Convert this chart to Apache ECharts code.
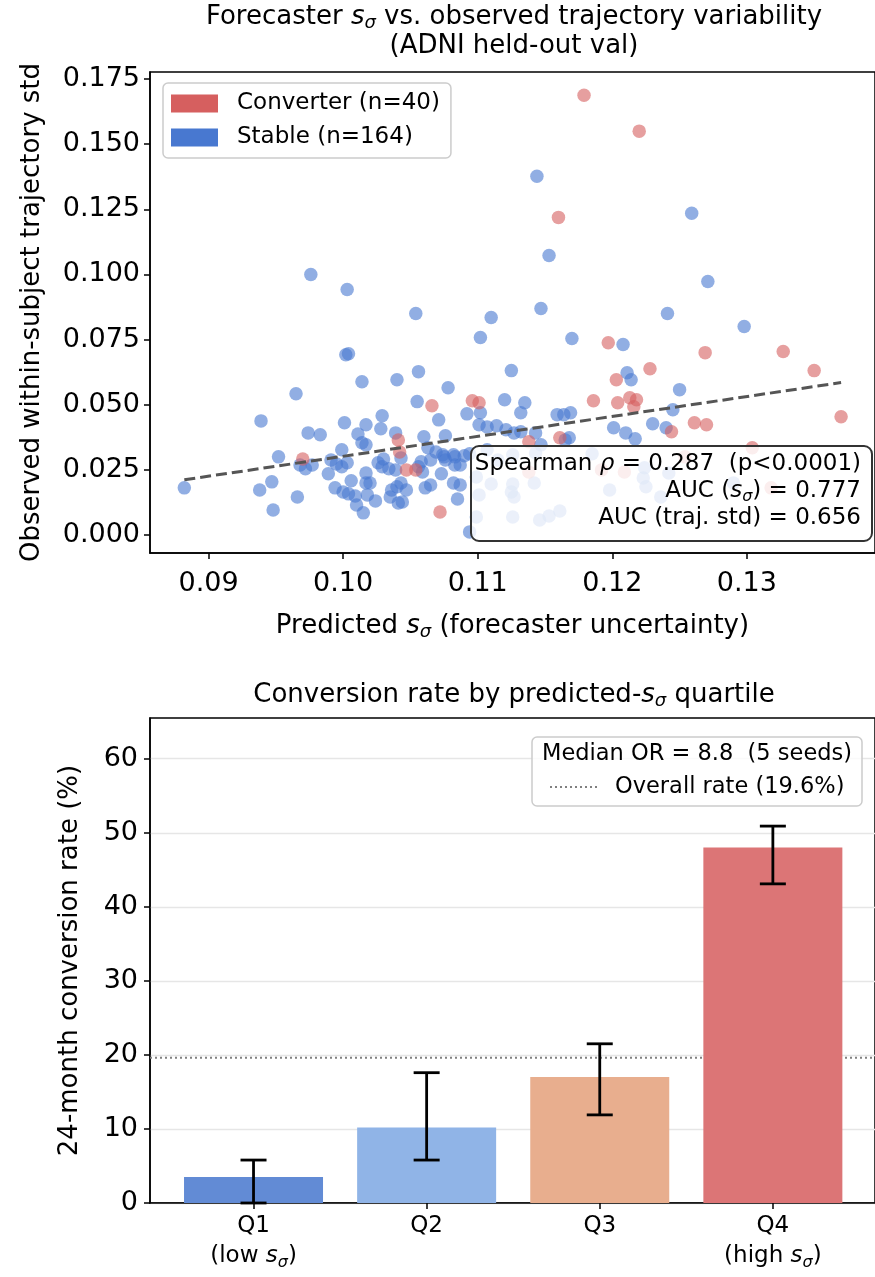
<!DOCTYPE html>
<html><head><meta charset="utf-8">
<script src="https://cdn.jsdelivr.net/npm/echarts@6/dist/echarts.min.js"></script>
<style>html,body{margin:0;padding:0;background:#fff}#c{width:875px;height:1277px}</style>
</head><body><div id="c"></div>
<script>
// ---------- DATA ----------
const converterPts = [
  [0.1179,0.1688],[0.1220,0.1550],[0.1160,0.1219],[0.1197,0.0738],[0.1269,0.0700],[0.1327,0.0704],
  [0.1350,0.0631],[0.1228,0.0638],[0.1203,0.0596],[0.1186,0.0515],[0.1204,0.0508],[0.1213,0.0527],
  [0.1218,0.0519],[0.1216,0.0492],[0.1370,0.0454],[0.1261,0.0431],[0.1270,0.0423],[0.1244,0.0396],
  [0.1161,0.0373],[0.1096,0.0515],[0.1101,0.0508],[0.1066,0.0496],[0.1041,0.0365],[0.1042,0.0319],
  [0.1047,0.0250],[0.1054,0.0250],[0.0970,0.0292],[0.1072,0.0088],[0.1138,0.0242],[0.1192,0.0250],
  [0.1209,0.0242],[0.1254,0.0300],[0.1304,0.0335],[0.1318,0.0181],[0.1138,0.0358]
];
const stablePts = [
  [0.0976,0.1000],[0.1003,0.0942],[0.1144,0.1377],[0.1153,0.1073],[0.1054,0.0850],[0.1110,0.0835],
  [0.1147,0.0869],[0.1259,0.1235],[0.1271,0.0973],[0.1241,0.0850],[0.1298,0.0800],[0.1102,0.0758],
  [0.1170,0.0754],[0.1208,0.0731],[0.1002,0.0692],[0.1004,0.0696],[0.1056,0.0627],[0.1125,0.0631],
  [0.1211,0.0623],[0.1214,0.0596],[0.1078,0.0565],[0.1014,0.0588],[0.1040,0.0596],[0.0965,0.0542],
  [0.1250,0.0558],[0.1055,0.0512],[0.1120,0.0519],[0.1135,0.0508],[0.1132,0.0469],[0.1092,0.0465],
  [0.1102,0.0469],[0.1159,0.0462],[0.1164,0.0462],[0.1169,0.0469],[0.1245,0.0481],[0.0939,0.0438],
  [0.1029,0.0458],[0.1071,0.0442],[0.1001,0.0431],[0.1017,0.0423],[0.1028,0.0408],[0.0974,0.0392],
  [0.0983,0.0385],[0.1011,0.0388],[0.1039,0.0392],[0.1014,0.0354],[0.1017,0.0346],[0.0999,0.0327],
  [0.1101,0.0423],[0.1107,0.0415],[0.1114,0.0419],[0.1121,0.0404],[0.1127,0.0392],[0.1132,0.0396],
  [0.1143,0.0392],[0.1201,0.0412],[0.1210,0.0392],[0.1217,0.0369],[0.1230,0.0427],[0.1240,0.0412],
  [0.1168,0.0373],[0.1165,0.0365],[0.1060,0.0377],[0.1076,0.0381],[0.1147,0.0346],[0.0952,0.0300],
  [0.0968,0.0269],[0.0972,0.0254],[0.0977,0.0269],[0.0991,0.0288],[0.0995,0.0273],[0.0999,0.0262],
  [0.1003,0.0277],[0.0989,0.0235],[0.1006,0.0208],[0.1017,0.0238],[0.1017,0.0200],[0.1020,0.0200],
  [0.0994,0.0181],[0.1000,0.0165],[0.1004,0.0158],[0.1009,0.0150],[0.1018,0.0154],[0.1010,0.0115],
  [0.1015,0.0085],[0.1024,0.0131],[0.1026,0.0277],[0.1030,0.0292],[0.1029,0.0262],[0.1034,0.0254],
  [0.1039,0.0250],[0.1036,0.0173],[0.1040,0.0185],[0.1035,0.0146],[0.1041,0.0123],[0.0882,0.0181],
  [0.0947,0.0204],[0.0938,0.0173],[0.0966,0.0146],[0.0948,0.0096],[0.1063,0.0335],[0.1069,0.0319],
  [0.1074,0.0308],[0.1076,0.0288],[0.1065,0.0288],[0.1082,0.0308],[0.1075,0.0300],[0.1083,0.0300],
  [0.1087,0.0269],[0.1090,0.0304],[0.1094,0.0312],[0.1083,0.0269],[0.1058,0.0281],[0.1056,0.0262],
  [0.1043,0.0296],[0.1059,0.0242],[0.1073,0.0235],[0.1082,0.0200],[0.1087,0.0192],[0.1065,0.0192],
  [0.1061,0.0181],[0.1043,0.0200],[0.1047,0.0173],[0.1085,0.0138],[0.1044,0.0127],[0.1094,0.0012],
  [0.1099,0.0223],[0.1110,0.0196],[0.1126,0.0196],[0.1142,0.0200],[0.1101,0.0154],[0.1125,0.0165],
  [0.1127,0.0146],[0.1099,0.0069],[0.1126,0.0069],[0.1146,0.0058],[0.1153,0.0073],[0.1161,0.0092],
  [0.1185,0.0312],[0.1198,0.0173],[0.1224,0.0258],[0.1223,0.0219],[0.1225,0.0185],[0.1242,0.0238],
  [0.1236,0.0146],[0.1290,0.0200],[0.1107,0.0327],[0.1126,0.0308],[0.1143,0.0315],[0.1115,0.0288]
];
const trendX = [0.0882, 0.1370];
const trendY = [0.0212, 0.0585];
const sigmaTicks = [0.09, 0.10, 0.11, 0.12, 0.13];
const stdTicks = [0, 0.025, 0.05, 0.075, 0.1, 0.125, 0.15, 0.175];

const quartiles = ['Q1', 'Q2', 'Q3', 'Q4'];
const quartileNotes = ['low', '', '', 'high'];
const convRate = [3.5, 10.2, 17.0, 48.0];
const ciLow = [0.0, 5.8, 11.9, 43.1];
const ciHigh = [5.8, 17.6, 21.5, 50.9];
const overallRate = 19.6;
const rateTicks = [0, 10, 20, 30, 40, 50, 60];

// ---------- STYLE ----------
const F = 'DejaVu Sans';
const barColors = ['#628bd5', '#90b4e7', '#e8ae8e', '#dc7576'];
const xMinB = -0.598, xMaxB = 3.59;

function rich(size, lh) {
  lh = lh || Math.round(size * 1.2);
  return {
    n: {fontFamily: F, fontSize: size, color: '#000', lineHeight: lh},
    i: {fontFamily: F, fontSize: size, fontStyle: 'italic', color: '#000', lineHeight: lh},
    sub: {fontFamily: F, fontSize: Math.round(size * 0.7), fontStyle: 'italic', color: '#000', verticalAlign: 'bottom', lineHeight: lh}
  };
}

const TICK = 27, LAB = 26, LEG = 23;

const chart = echarts.init(document.getElementById('c'), null, {renderer: 'canvas'});

const axisCommon = {
  axisLine: {show: true, onZero: false, lineStyle: {color: '#000', width: 1.5}},
  axisTick: {show: true, length: 6, lineStyle: {color: '#000', width: 1.5}},
  splitLine: {show: false}
};

const option = {
  animation: false,
  backgroundColor: '#fff',
  grid: [
    {left: 150, top: 72, width: 730, height: 481, show: true, borderColor: '#000', borderWidth: 1.5, backgroundColor: 'transparent'},
    {left: 150, top: 718, width: 730, height: 485, show: true, borderColor: '#000', borderWidth: 1.5, backgroundColor: 'transparent'}
  ],
  xAxis: [
    Object.assign({}, axisCommon, {
      gridIndex: 0, type: 'value', min: 0.08565, max: 0.13952,
      axisTick: {show: true, length: 6, customValues: sigmaTicks, lineStyle: {color: '#000', width: 1.5}},
      axisLabel: {customValues: sigmaTicks, formatter: v => v.toFixed(2), fontFamily: F, fontSize: TICK, color: '#000', margin: 17},
      name: '{n|Predicted }{i|s}{sub|σ}{n| (forecaster uncertainty)}',
      nameLocation: 'middle', nameGap: 58,
      nameTextStyle: {rich: rich(LAB, 30)}
    }),
    Object.assign({}, axisCommon, {
      gridIndex: 1, type: 'value', min: xMinB, max: xMaxB,
      axisTick: {show: true, length: 6, customValues: [0, 1, 2, 3], lineStyle: {color: '#000', width: 1.5}},
      axisLabel: {
        customValues: [0, 1, 2, 3], margin: 8,
        formatter: v => {
          const k = Math.round(v);
          const note = quartileNotes[k];
          return '{n|' + quartiles[k] + '}' + (note ? '\n{n|(' + note + ' }{i|s}{sub|σ}{n|)}' : '');
        },
        rich: rich(23, 30)
      }
    })
  ],
  yAxis: [
    Object.assign({}, axisCommon, {
      gridIndex: 0, type: 'value', min: -0.0069, max: 0.1777,
      axisTick: {show: true, length: 6, customValues: stdTicks, lineStyle: {color: '#000', width: 1.5}},
      axisLabel: {customValues: stdTicks, formatter: v => v.toFixed(3), fontFamily: F, fontSize: TICK, color: '#000', margin: 10},
      name: 'Observed within-subject trajectory std',
      nameLocation: 'middle', nameGap: 105,
      nameTextStyle: {fontFamily: F, fontSize: LAB, color: '#000'}
    }),
    Object.assign({}, axisCommon, {
      gridIndex: 1, type: 'value', min: 0, max: 65.5, interval: 10,
      axisTick: {show: true, length: 6, customValues: rateTicks, lineStyle: {color: '#000', width: 1.5}},
      axisLabel: {customValues: rateTicks, fontFamily: F, fontSize: TICK, color: '#000', margin: 12},
      splitLine: {show: true, lineStyle: {color: '#e6e6e6', width: 1.3}},
      name: '24-month conversion rate (%)',
      nameLocation: 'middle', nameGap: 67,
      nameTextStyle: {fontFamily: F, fontSize: LAB, color: '#000'}
    })
  ],
  legend: [{
    data: [
      {name: 'Converter (n=40)', itemStyle: {opacity: 1}},
      {name: 'Stable (n=164)', itemStyle: {opacity: 1}}
    ],
    orient: 'vertical', left: 163, top: 83,
    icon: 'rect', itemWidth: 47, itemHeight: 18, itemGap: 11,
    textStyle: {fontFamily: F, fontSize: LEG, color: '#000', padding: [0, 0, 0, 14]},
    backgroundColor: 'rgba(255,255,255,0.8)', borderColor: '#cccccc', borderWidth: 1.5, borderRadius: 5,
    padding: [9, 11, 9, 8],
    selectedMode: false
  }],
  series: [
    {
      name: 'Stable (n=164)', type: 'scatter', xAxisIndex: 0, yAxisIndex: 0,
      data: stablePts, symbolSize: 13.5, z: 2,
      itemStyle: {color: '#4878D0', opacity: 0.6}
    },
    {
      name: 'Converter (n=40)', type: 'scatter', xAxisIndex: 0, yAxisIndex: 0,
      data: converterPts, symbolSize: 13.5, z: 3,
      itemStyle: {color: '#D65F5F', opacity: 0.6}
    },
    {
      name: 'trend', type: 'line', xAxisIndex: 0, yAxisIndex: 0,
      data: trendX.map((x, i) => [x, trendY[i]]), symbol: 'none', z: 4,
      lineStyle: {color: '#555555', width: 3, type: [11, 5]}
    },
    {
      name: 'Overall rate (19.6%)', type: 'line', xAxisIndex: 1, yAxisIndex: 1,
      data: [[xMinB, overallRate], [xMaxB, overallRate]], symbol: 'none', z: 1,
      lineStyle: {color: '#808080', width: 2, type: [2, 3]}
    },
    {
      name: 'rate', type: 'bar', xAxisIndex: 1, yAxisIndex: 1, barWidth: 139, z: 2,
      data: convRate.map((v, i) => ({value: [i, v], itemStyle: {color: barColors[i]}}))
    },
    {
      name: 'ci', type: 'custom', xAxisIndex: 1, yAxisIndex: 1, z: 5,
      data: quartiles.map((q, i) => [i, ciLow[i], ciHigh[i]]),
      encode: {x: 0, y: [1, 2]},
      renderItem: (params, api) => {
        const x = api.value(0);
        const a = api.coord([x, api.value(1)]);
        const b = api.coord([x, api.value(2)]);
        const cap = 13;
        const st = {stroke: '#000', lineWidth: 2.8};
        return {type: 'group', children: [
          {type: 'line', shape: {x1: a[0], y1: a[1], x2: b[0], y2: b[1]}, style: st},
          {type: 'line', shape: {x1: a[0] - cap, y1: a[1], x2: a[0] + cap, y2: a[1]}, style: st},
          {type: 'line', shape: {x1: b[0] - cap, y1: b[1], x2: b[0] + cap, y2: b[1]}, style: st}
        ]};
      }
    }
  ],
  graphic: {elements: [
    {type: 'text', x: 514, y: 32, z: 50,
     style: {text: '{n|Forecaster }{i|s}{sub|σ}{n| vs. observed trajectory variability}\n{n|(ADNI held-out val)}',
       rich: rich(LAB, 29), align: 'center', verticalAlign: 'middle', textAlign: 'center', textVerticalAlign: 'middle'}},
    {type: 'text', x: 514, y: 695, z: 50,
     style: {text: '{n|Conversion rate by predicted-}{i|s}{sub|σ}{n| quartile}',
       rich: rich(LAB, 30), align: 'center', verticalAlign: 'middle', textAlign: 'center', textVerticalAlign: 'middle'}},
    // stats box
    {type: 'rect', z: 100, shape: {x: 471, y: 446, width: 401, height: 95, r: 8},
     style: {fill: 'rgba(255,255,255,0.82)', stroke: '#333333', lineWidth: 2}},
    {type: 'text', x: 861, y: 464, z: 101,
     style: {text: '{n|Spearman }{i|ρ}{n| = 0.287  (p<0.0001)}', rich: rich(LEG, 27), align: 'right', verticalAlign: 'middle', textAlign: 'right', textVerticalAlign: 'middle'}},
    {type: 'text', x: 861, y: 491, z: 101,
     style: {text: '{n|AUC (}{i|s}{sub|σ}{n|) = 0.777}', rich: rich(LEG, 27), align: 'right', verticalAlign: 'middle', textAlign: 'right', textVerticalAlign: 'middle'}},
    {type: 'text', x: 861, y: 518, z: 101,
     style: {text: 'AUC (traj. std) = 0.656', fontFamily: F, fontSize: LEG, fill: '#000', align: 'right', verticalAlign: 'middle', textAlign: 'right', textVerticalAlign: 'middle'}},
    // bottom legend
    {type: 'rect', z: 100, shape: {x: 532, y: 737, width: 330, height: 69, r: 5},
     style: {fill: 'rgba(255,255,255,0.8)', stroke: '#cccccc', lineWidth: 1.5}},
    {type: 'text', x: 697, y: 754, z: 101,
     style: {text: 'Median OR = 8.8  (5 seeds)', fontFamily: F, fontSize: 22.5, fill: '#000', align: 'center', verticalAlign: 'middle', textAlign: 'center', textVerticalAlign: 'middle'}},
    {type: 'line', z: 101, shape: {x1: 550, y1: 787, x2: 597, y2: 787},
     style: {stroke: '#808080', lineWidth: 2, lineDash: [2, 3]}},
    {type: 'text', x: 615, y: 787, z: 101,
     style: {text: 'Overall rate (19.6%)', fontFamily: F, fontSize: 22.5, fill: '#000', align: 'left', verticalAlign: 'middle', textAlign: 'left', textVerticalAlign: 'middle'}}
  ]}
};
chart.setOption(option);
</script>
</body></html>
